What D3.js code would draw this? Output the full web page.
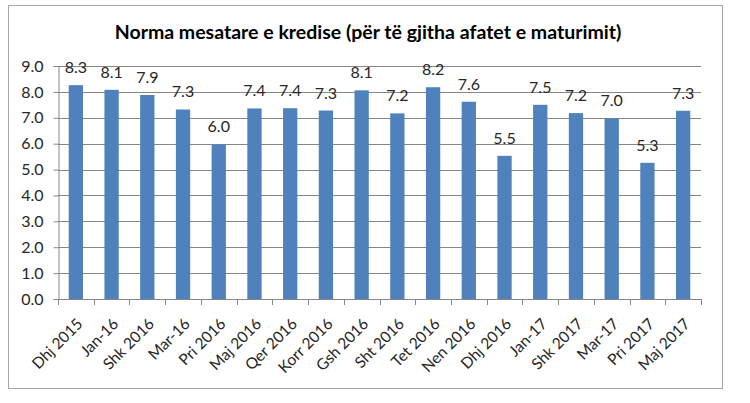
<!DOCTYPE html>
<html><head><meta charset="utf-8">
<script src="https://cdn.jsdelivr.net/npm/d3@7"></script>
<style>body{margin:0;background:#fff}text{font-family:Lato,"Open Sans",sans-serif}</style>
</head><body>
<svg id="c" width="750" height="403"></svg>
<script>
const categories = ["Dhj 2015","Jan-16","Shk 2016","Mar-16","Pri 2016","Maj 2016","Qer 2016","Korr 2016","Gsh 2016","Sht 2016","Tet 2016","Nen 2016","Dhj 2016","Jan-17","Shk 2017","Mar-17","Pri 2017","Maj 2017"];
const values = [8.26,8.08,7.88,7.32,5.97,7.36,7.37,7.28,8.06,7.17,8.18,7.62,5.53,7.50,7.18,6.98,5.26,7.27];
const yTicks = [0,1,2,3,4,5,6,7,8,9];
const title = "Norma mesatare e kredise (për të gjitha afatet e maturimit)";

const svg = d3.select("#c");
svg.append("rect").attr("x",8.5).attr("y",5.5).attr("width",714).attr("height",383)
  .attr("fill","#fff").attr("stroke","#a6a6a6");
const m = {l:58,r:701,t:66,b:299};
const x = d3.scaleBand().domain(categories).range([m.l,m.r]).paddingInner(0.6).paddingOuter(0.3);
const y = d3.scaleLinear().domain([0,9]).range([m.b,m.t]);

svg.append("text").attr("x",368).attr("y",39).attr("text-anchor","middle")
  .attr("font-size",19.5).attr("font-weight","bold").attr("fill","#000").text(title);

// gridlines
svg.append("g").selectAll("line").data(yTicks.slice(1)).join("line")
  .attr("x1",m.l).attr("x2",m.r).attr("y1",d=>Math.round(y(d))+0.5).attr("y2",d=>Math.round(y(d))+0.5)
  .attr("stroke","#868686").attr("stroke-width",1);

const ya = svg.append("g").attr("transform",`translate(${m.l+0.5},0)`)
  .call(d3.axisLeft(y).tickValues(yTicks).tickFormat(d3.format(".1f")).tickSize(5).tickPadding(10));
ya.select(".domain").attr("stroke","#868686");
ya.selectAll(".tick line").attr("stroke","#868686");
ya.selectAll(".tick text").attr("font-size",16).attr("fill","#262626").attr("font-family","Lato,'Open Sans',sans-serif");

// bars
svg.append("g").selectAll("rect").data(values).join("rect")
  .attr("x",(d,i)=>x(categories[i])).attr("width",x.bandwidth())
  .attr("y",d=>y(d)).attr("height",d=>y(0)-y(d)).attr("fill","#4f81bd");

// labels
svg.append("g").selectAll("text").data(values).join("text")
  .attr("x",(d,i)=>x(categories[i])+x.bandwidth()/2).attr("y",d=>y(d)-12)
  .attr("text-anchor","middle").attr("font-size",16).attr("fill","#262626").text(d=>d.toFixed(1));

// x axis
svg.append("line").attr("x1",m.l).attr("x2",m.r).attr("y1",m.b+0.5).attr("y2",m.b+0.5).attr("stroke","#868686");
const bounds = d3.range(categories.length+1).map(i=>m.l + i*(m.r-m.l)/categories.length);
svg.append("g").selectAll("line").data(bounds).join("line")
  .attr("x1",d=>Math.round(d)+0.5).attr("x2",d=>Math.round(d)+0.5).attr("y1",m.b).attr("y2",m.b+6).attr("stroke","#868686");
svg.append("g").selectAll("text").data(categories).join("text")
  .attr("transform",d=>`translate(${x(d)+x.bandwidth()/2+4},${m.b+22}) rotate(-45)`)
  .attr("text-anchor","end").attr("dy","0.35em").attr("font-size",15.5).attr("fill","#262626").text(d=>d);
</script>
</body></html>
